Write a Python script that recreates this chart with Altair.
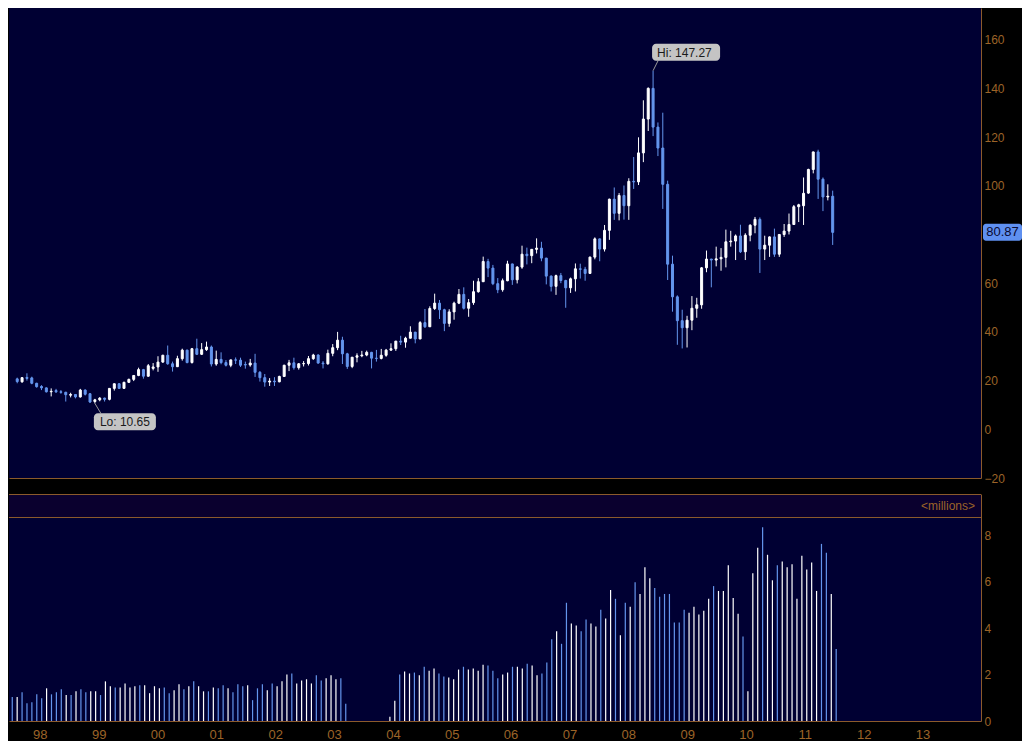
import altair as alt
import numpy as np
import pandas as pd

# ---------------- data (monthly candles, Aug 1997 .. Aug 2011) ----------------
START_MONTH = "1997-08"

OPEN = [
    20.7, 19.5, 21.3, 21.1, 18.9,                                               # 1997 Aug-Dec
    17.6, 17.0, 15.4, 15.9, 15.4, 15.2, 14.0, 14.3, 13.3, 16.1, 14.6, 11.4,     # 1998
    12.1, 12.8, 12.3, 16.8, 18.7, 16.8, 19.3, 20.5, 22.1, 24.5, 21.8, 25.0,     # 1999
    25.6, 27.6, 30.4, 26.9, 25.7, 29.0, 32.5, 27.4, 33.1, 30.8, 32.7, 33.8,     # 2000
    26.8, 28.7, 27.4, 26.3, 28.5, 28.4, 26.6, 26.4, 27.2, 23.4, 21.2, 19.4,     # 2001
    19.8, 19.5, 21.7, 26.3, 27.3, 25.3, 26.9, 27.0, 29.0, 30.5, 27.2, 26.9,     # 2002
    31.2, 33.5, 36.6, 31.0, 25.8, 29.6, 30.2, 30.5, 31.6, 29.2, 29.1, 30.4,     # 2003
    32.5, 33.1, 36.2, 35.8, 37.4, 39.9, 37.1, 43.8, 42.1, 49.6, 51.8, 49.1,     # 2004
    43.5, 48.2, 51.8, 55.4, 49.7, 52.0, 56.5, 60.6, 68.9, 66.2, 59.8, 57.3,     # 2005
    61.0, 67.9, 61.4, 66.6, 71.9, 71.3, 73.9, 74.4, 70.3, 62.9, 58.7, 63.1,     # 2006
    61.1, 58.1, 61.8, 65.9, 65.7, 64.0, 70.7, 78.2, 74.0, 81.7, 94.5, 88.7,     # 2007
    96.0, 91.8, 101.8, 101.6, 113.5, 127.4, 140.0, 124.1, 115.5, 100.6, 67.8, 54.4,  # 2008
    44.6, 41.7, 44.8, 49.7, 51.1, 66.3, 69.9, 69.5, 70.0, 70.6, 77.0, 77.3,     # 2009
    79.4, 72.9, 79.7, 83.8, 86.2, 74.0, 75.6, 79.0, 71.9, 80.0, 81.4, 84.1,     # 2010
    91.4, 91.8, 97.0, 106.7, 113.9, 102.7, 95.4, 95.7,                          # 2011 Jan-Aug
]
HIGH = [
    21.2, 21.4, 23.0, 21.6, 19.1,
    18.1, 17.2, 16.8, 16.6, 16.1, 15.4, 15.0, 14.4, 16.6, 16.4, 14.9, 12.5,
    13.2, 13.0, 16.9, 18.8, 19.0, 19.5, 20.8, 22.3, 25.3, 24.8, 26.8, 27.2,
    30.0, 30.6, 34.4, 27.8, 30.2, 33.1, 32.7, 33.4, 37.2, 35.4, 36.0, 34.4,
    32.3, 31.6, 28.4, 28.6, 29.5, 29.4, 27.8, 28.9, 31.0, 23.9, 22.7, 21.0,
    21.4, 22.0, 26.5, 28.5, 29.4, 27.2, 28.0, 30.1, 31.0, 30.8, 28.0, 32.7,
    35.0, 40.0, 38.0, 31.4, 29.7, 31.2, 32.2, 32.3, 31.8, 32.6, 33.0, 33.0,
    35.3, 36.3, 38.4, 38.0, 42.3, 40.0, 44.4, 49.4, 50.5, 55.7, 53.1, 49.5,
    49.3, 52.4, 57.6, 58.3, 53.5, 61.0, 62.1, 70.9, 70.0, 67.5, 62.1, 61.9,
    69.2, 68.0, 67.0, 75.4, 74.6, 74.0, 78.4, 77.0, 70.4, 63.2, 63.5, 64.2,
    61.4, 62.3, 68.1, 68.0, 66.7, 70.9, 78.8, 78.3, 83.9, 94.7, 99.3, 97.0,
    100.1, 103.1, 111.8, 119.9, 135.1, 140.4, 147.27, 126.0, 130.0, 102.1, 71.3, 55.0,
    49.1, 46.6, 54.7, 54.0, 66.6, 73.4, 70.0, 75.0, 74.4, 82.0, 81.5, 80.0,
    84.0, 80.5, 84.2, 87.2, 87.0, 79.5, 79.2, 82.4, 80.2, 84.3, 88.6, 92.1,
    92.6, 103.4, 107.0, 114.0, 114.8, 103.4, 100.6, 98.0,
]
LOW = [
    18.9, 19.1, 20.0, 18.5, 17.1,
    16.1, 15.1, 13.5, 14.9, 14.6, 11.4, 13.1, 12.7, 13.0, 13.9, 10.8, 10.65,
    11.5, 11.4, 11.9, 15.9, 16.6, 16.8, 19.0, 19.8, 21.8, 20.8, 21.6, 24.2,
    23.6, 27.3, 26.5, 23.7, 25.6, 28.2, 27.1, 27.0, 30.5, 30.5, 32.2, 25.8,
    26.1, 26.7, 25.8, 25.5, 26.8, 25.6, 24.9, 25.7, 21.5, 19.6, 17.5, 17.8,
    17.8, 19.3, 21.6, 23.9, 24.5, 24.5, 25.8, 26.2, 28.5, 26.9, 25.0, 26.5,
    30.0, 32.5, 26.8, 24.8, 25.1, 27.5, 29.6, 30.0, 25.0, 27.8, 28.7, 29.8,
    32.2, 32.2, 34.6, 33.5, 37.3, 35.3, 37.0, 41.6, 42.0, 49.0, 45.3, 40.3,
    42.1, 45.0, 51.4, 49.2, 46.2, 51.1, 56.1, 60.5, 62.5, 59.2, 55.9, 56.5,
    60.8, 59.3, 59.9, 65.9, 67.7, 68.2, 72.2, 69.0, 59.5, 56.6, 55.2, 60.0,
    49.9, 56.0, 56.6, 61.9, 61.0, 64.0, 69.8, 69.0, 73.0, 77.8, 86.0, 85.8,
    86.1, 86.0, 98.7, 100.3, 109.7, 122.5, 120.4, 112.2, 90.5, 61.3, 48.3, 34.7,
    33.2, 33.6, 40.7, 45.8, 49.5, 64.5, 58.3, 66.9, 65.1, 66.5, 75.0, 69.5,
    72.4, 69.5, 77.2, 80.5, 64.2, 69.5, 70.8, 70.8, 70.8, 79.0, 80.0, 84.0,
    85.1, 83.9, 96.7, 105.1, 94.6, 89.6, 94.0, 75.7,
]
CLOSE = [
    19.6, 21.2, 20.9, 18.9, 17.5,
    17.0, 15.4, 15.6, 15.4, 15.2, 14.2, 14.3, 13.3, 16.1, 14.4, 11.2, 12.1,
    12.8, 12.3, 16.8, 18.7, 16.8, 19.3, 20.5, 22.1, 24.5, 21.8, 26.1, 25.6,
    27.6, 30.4, 26.9, 25.7, 29.0, 32.5, 27.4, 33.1, 30.8, 32.7, 33.8, 26.8,
    28.7, 27.4, 26.3, 28.5, 28.4, 26.3, 26.4, 27.2, 23.4, 21.2, 19.4, 19.8,
    19.5, 21.7, 26.3, 27.3, 25.3, 26.9, 27.0, 29.0, 30.5, 27.2, 26.9, 31.2,
    33.5, 36.6, 31.0, 25.8, 29.6, 30.2, 30.5, 31.6, 29.2, 29.1, 30.4, 32.5,
    33.1, 36.2, 35.8, 37.4, 39.9, 37.1, 43.8, 42.1, 49.6, 51.8, 49.1, 43.5,
    48.2, 51.8, 55.4, 49.7, 52.0, 56.5, 60.6, 68.9, 66.2, 59.8, 57.3, 61.0,
    67.9, 61.4, 66.6, 71.9, 71.3, 73.9, 74.4, 70.3, 62.9, 58.7, 63.1, 61.1,
    58.1, 61.8, 65.9, 65.7, 64.0, 70.7, 78.2, 74.0, 81.7, 94.5, 88.7, 96.0,
    91.8, 101.8, 101.6, 113.5, 127.4, 140.0, 124.1, 115.5, 100.6, 67.8, 54.4, 44.6,
    41.7, 44.8, 49.7, 51.1, 66.3, 69.9, 69.5, 70.0, 70.6, 77.0, 77.3, 79.4,
    72.9, 79.7, 83.8, 86.2, 74.0, 75.6, 79.0, 71.9, 80.0, 81.4, 84.1, 91.4,
    92.2, 96.9, 106.7, 113.9, 102.7, 95.4, 95.7, 80.87,
]
VOLUME_MILLIONS = [
    1.03, 1.03, 1.24, 0.77, 0.81,
    1.15, 0.98, 1.41, 1.15, 1.24, 1.37, 1.12, 1.12, 1.28, 1.37, 1.24, 1.28,
    1.28, 1.12, 1.71, 1.50, 1.45, 1.45, 1.62, 1.45, 1.50, 1.54, 1.54, 1.20,
    1.50, 1.41, 1.45, 1.20, 1.33, 1.58, 1.37, 1.50, 1.71, 1.50, 1.28, 1.28,
    1.45, 1.41, 1.54, 1.41, 1.24, 1.58, 1.50, 1.54, 0.90, 1.41, 1.58, 1.33,
    1.62, 1.50, 1.71, 2.01, 2.05, 1.62, 1.75, 1.80, 1.62, 1.97, 1.75, 1.84,
    1.97, 1.80, 1.84, 0.74, None, None, None, None, None, None, None, None,
    0.18, 0.87, 2.01, 2.14, 2.05, 2.09, 1.97, 2.34, 2.17, 2.26, 2.05, 1.92,
    1.88, 1.80, 2.22, 2.34, 2.22, 2.26, 2.17, 2.43, 2.39, 2.17, 1.84, 2.01,
    2.09, 2.34, 2.34, 2.26, 2.47, 2.39, 1.97, 2.05, 2.52, 3.53, 3.87, 3.33,
    5.10, 4.21, 4.12, 3.87, 4.38, 4.21, 4.08, 4.80, 4.42, 5.65, 5.27, 3.70,
    5.10, 4.93, 5.99, 5.48, 6.63, 6.16, 5.74, 5.36, 5.48, 5.48, 4.25, 4.25,
    4.80, 4.67, 4.93, 4.59, 4.76, 5.27, 5.82, 5.61, 5.61, 6.72, 5.31, 4.63,
    3.65, 1.28, 6.37, 7.47, 8.36, 7.17, 6.07, 6.72, 6.88, 6.63, 6.76, 5.27,
    7.13, 6.54, 6.84, 5.61, 7.64, 7.26, 5.48, 3.11,
]

YEAR_TICKS = list(range(1998, 2014))
PRICE_TICKS = [-20, 0, 20, 40, 60, 100, 120, 140, 160]
VOLUME_TICKS = [0, 2, 4, 6, 8]

HI_MONTH, HI_VALUE, HI_LABEL = "2008-07", 147.27, "Hi: 147.27"
LO_MONTH, LO_VALUE, LO_LABEL = "1998-12", 10.65, "Lo: 10.65"
LAST_VALUE, LAST_LABEL = 80.87, "80.87"
VOLUME_UNIT_LABEL = "<millions>"

# ---------------- styling ----------------
W = 972          # plot width
H_MAIN = 470     # price panel height
H_STRIP = 23     # header strip of the volume panel
H_VOL = 204      # volume plot height
X_DOMAIN = [1997.528, 2014.044]
Y_DOMAIN = [-20, 173]
VOL_TOP = 8.8
VOL_DOMAIN = [0, VOL_TOP * (H_VOL + H_STRIP) / H_VOL]

BG = "#000000"
NAVY = "#000033"
STRIP = "#0a002e"
LINE = "#8b5a2b"
LABEL = "#9c6428"
UP = "#ffffff"
DOWN = "#6495ed"
FONT = "'Liberation Sans Narrow', 'Arial Narrow', 'Liberation Sans', Arial, sans-serif"


def month_pos(m):
    p = pd.Period(m, freq="M")
    return p.year + (p.month - 1) / 12


months = pd.period_range(START_MONTH, periods=len(CLOSE), freq="M")
df = pd.DataFrame({
    "t": months.year + (months.month - 1) / 12,
    "open": OPEN, "high": HIGH, "low": LOW, "close": CLOSE,
    "vol": VOLUME_MILLIONS,
})
df["dir"] = np.where(df["close"] >= df["open"], "up", "down")

xs = alt.Scale(domain=X_DOMAIN, nice=False, zero=False)
ys = alt.Scale(domain=Y_DOMAIN, nice=False, zero=False)
cs = alt.Scale(domain=["up", "down"], range=[UP, DOWN])

x_axis = alt.Axis(labels=False, ticks=False, grid=False, domainColor=LINE, title=None)
y_axis = alt.Axis(orient="right", values=PRICE_TICKS, ticks=False, grid=False,
                  domainColor=LINE, labelColor=LABEL, labelFont=FONT, labelFontSize=12,
                  labelPadding=3, labelFlush=False, title=None)


def X(field="t:Q"):
    return alt.X(field, scale=xs, axis=x_axis, title=None)


def Y(field):
    return alt.Y(field, scale=ys, axis=y_axis, title=None)


base = alt.Chart(df)
wicks = base.mark_rule(strokeWidth=1).encode(
    x=X(), y=Y("low:Q"), y2="high:Q",
    color=alt.Color("dir:N", scale=cs, legend=None),
)
bodies = base.mark_bar(size=2, strokeWidth=1).encode(
    x=X(), y=Y("open:Q"), y2="close:Q",
    color=alt.Color("dir:N", scale=cs, legend=None),
    stroke=alt.Stroke("dir:N", scale=cs, legend=None),
)

ann = pd.DataFrame({
    "t": [month_pos(HI_MONTH), month_pos(LO_MONTH)],
    "p": [HI_VALUE, LO_VALUE],
    "label": [HI_LABEL, LO_LABEL],
})
hi = alt.Chart(ann.iloc[[0]])
lo = alt.Chart(ann.iloc[[1]])
enc = dict(x=X(), x2="t:Q", y=Y("p:Q"), y2="p:Q")
enc_t = dict(x=X(), y=Y("p:Q"), text="label:N")

hi_ptr = hi.mark_rule(color="#9a9a9a", strokeWidth=1, x2Offset=5, y2Offset=-10).encode(**enc)
hi_box = hi.mark_rect(fill="#c4c4c4", cornerRadius=4, xOffset=-1, x2Offset=67,
                      yOffset=-27, y2Offset=-10).encode(**enc)
hi_txt = hi.mark_text(align="left", baseline="middle", dx=4, dy=-18, font=FONT,
                      fontSize=12, color="#1a1a1a").encode(**enc_t)

lo_ptr = lo.mark_rule(color="#9a9a9a", strokeWidth=1, x2Offset=6, y2Offset=10).encode(**enc)
lo_box = lo.mark_rect(fill="#c4c4c4", cornerRadius=4, xOffset=-1, x2Offset=61,
                      yOffset=10, y2Offset=27).encode(**enc)
lo_txt = lo.mark_text(align="left", baseline="middle", dx=5, dy=19, font=FONT,
                      fontSize=12, color="#1a1a1a").encode(**enc_t)

last = alt.Chart(pd.DataFrame({"p": [LAST_VALUE], "label": [LAST_LABEL]}))
last_box = last.mark_rect(fill="#5f90f0", cornerRadius=3, yOffset=-8.5, y2Offset=8.5).encode(
    x=alt.value(W + 2), x2=alt.value(W + 41), y=Y("p:Q"), y2="p:Q")
last_txt = last.mark_text(align="center", baseline="middle", font=FONT, fontSize=13,
                          color="#0a0a30").encode(
    x=alt.value(W + 21.5), y=Y("p:Q"), text="label:N")

main = alt.layer(wicks, bodies, hi_ptr, hi_box, hi_txt, lo_ptr, lo_box, lo_txt,
                 last_box, last_txt).properties(width=W, height=H_MAIN)

# ---------------- volume panel ----------------
vs = alt.Scale(domain=VOL_DOMAIN, nice=False, zero=False)
x_vol = alt.X("t:Q", scale=xs, title=None,
              axis=alt.Axis(values=YEAR_TICKS, labelExpr="substring(toString(datum.value), 2, 4)",
                            ticks=False, grid=False, domainColor=LINE, labelColor=LABEL,
                            labelFont=FONT, labelFontSize=13, labelPadding=7,
                            labelOffset=3, labelFlush=False))
vol_bars = base.mark_rule(strokeWidth=1.2).encode(
    x=x_vol,
    y=alt.Y("vol:Q", scale=vs, title=None,
            axis=alt.Axis(orient="right", values=VOLUME_TICKS, ticks=False, grid=False,
                          domainColor=LINE, labelColor=LABEL, labelFont=FONT,
                          labelFontSize=12, labelPadding=3, labelFlush=False)),
    y2=alt.datum(0),
    color=alt.Color("dir:N", scale=cs, legend=None),
)
strip_df = alt.Chart(pd.DataFrame({"label": [VOLUME_UNIT_LABEL]}))
strip_rect = strip_df.mark_rect(fill=STRIP).encode(
    x=alt.value(0), x2=alt.value(W), y=alt.value(0), y2=alt.value(H_STRIP))
strip_top = strip_df.mark_rule(color=LINE, strokeWidth=1).encode(
    x=alt.value(0), x2=alt.value(W), y=alt.value(0.5))
strip_bottom = strip_df.mark_rule(color=LINE, strokeWidth=1).encode(
    x=alt.value(0), x2=alt.value(W), y=alt.value(H_STRIP + 0.5))
strip_txt = strip_df.mark_text(align="right", baseline="middle", font=FONT, fontSize=12,
                               color=LABEL).encode(
    x=alt.value(W - 6), y=alt.value(H_STRIP / 2 + 0.5), text="label:N")

volume = alt.layer(strip_rect, vol_bars, strip_top, strip_bottom, strip_txt).properties(
    width=W, height=H_VOL + H_STRIP)

chart = alt.vconcat(main, volume, spacing=10).resolve_scale(
    x="independent", y="independent", color="shared"
).configure(background=BG, padding=0).configure_view(fill=NAVY, strokeWidth=0)

chart.save("out.html", embed_options={"renderer": "svg", "actions": False})
